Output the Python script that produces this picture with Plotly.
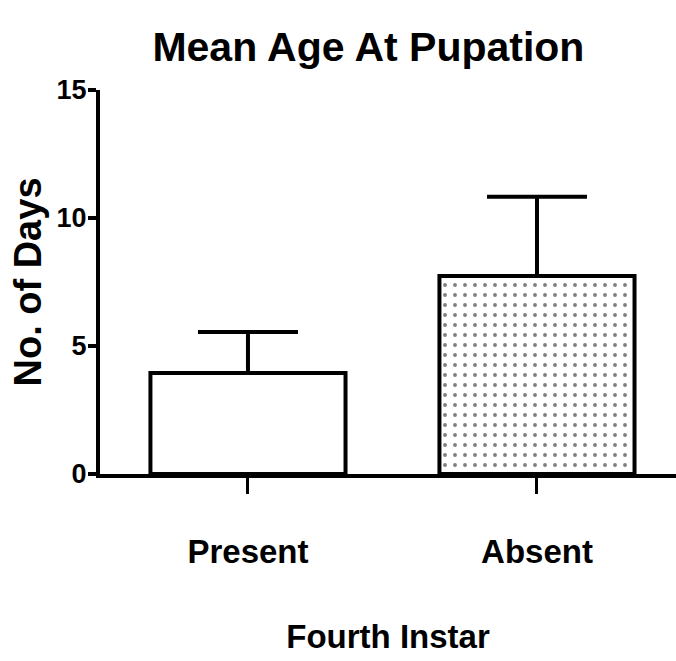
import plotly.graph_objects as go

categories = ["Present", "Absent"]
means = [3.95, 7.73]
sds = [1.6, 3.1]
y_ticks = [0, 5, 10, 15]

FONT = "Liberation Sans, Arial, sans-serif"

fig = go.Figure()
fig.add_trace(go.Bar(
    x=[0, 1],
    y=means,
    width=0.675,
    marker=dict(
        color="white",
        line=dict(color="black", width=4),
        pattern=dict(shape=["", "."], fgcolor="black", bgcolor="white",
                     size=10, solidity=0.12, fillmode="overlay"),
    ),
    error_y=dict(type="data", symmetric=False, array=sds, arrayminus=[0, 0],
                 color="black", thickness=4, width=50),
))

fig.update_layout(
    width=676, height=661,
    margin=dict(l=100, r=0, t=90, b=187),
    paper_bgcolor="white", plot_bgcolor="white",
    showlegend=False,
    title=dict(text="Mean Age At Pupation", x=0.545, xanchor="center",
               y=1 - 47 / 661, yanchor="middle",
               font=dict(family=FONT, size=41, color="black", weight="bold")),
    font=dict(family=FONT, color="black"),
)
fig.update_xaxes(
    range=[-0.512, 1.481],
    tickvals=[0, 1], ticktext=categories,
    showline=True, linecolor="black", linewidth=4,
    ticks="outside", ticklen=16, tickwidth=3, tickcolor="black",
    tickfont=dict(family=FONT, size=33, color="black", weight="bold"),
    ticklabelstandoff=29,
    showgrid=False, zeroline=False,
    title=dict(text="Fourth Instar", standoff=57,
               font=dict(family=FONT, size=33, color="black", weight="bold")),
)
fig.update_yaxes(
    range=[0, 15],
    tickvals=y_ticks,
    showline=True, linecolor="black", linewidth=4,
    ticks="outside", ticklen=8, tickwidth=4, tickcolor="black",
    tickfont=dict(family=FONT, size=27, color="black", weight="bold"),
    ticklabelstandoff=-4,
    showgrid=False, zeroline=False,
    title=dict(text="No. of Days", standoff=4,
               font=dict(family=FONT, size=38, color="black", weight="bold")),
)

fig.write_html("out.html")
